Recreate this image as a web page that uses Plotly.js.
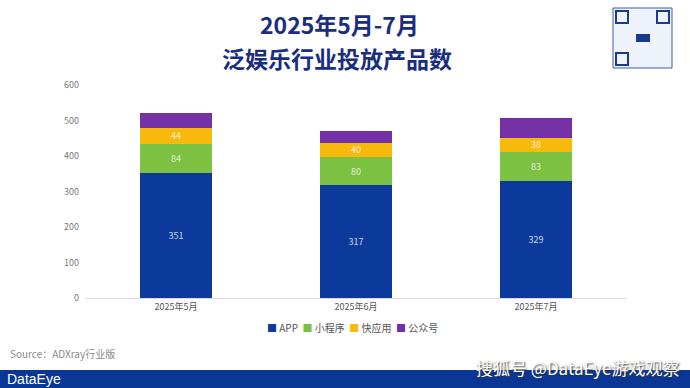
<!DOCTYPE html>
<html><head><meta charset="utf-8">
<script src="https://cdn.plot.ly/plotly-3.0.1.min.js"></script>
<style>html,body{margin:0;padding:0;background:#fff;}#chart{width:690px;height:388px;}</style>
</head><body><div id="chart"></div>
<script>
const categories = ['2025年5月', '2025年6月', '2025年7月'];
const appValues = [351, 317, 329];
const miniValues = [84, 80, 83];
const quickValues = [44, 40, 38];
const officialValues = [42, 33, 57];
const seriesNames = ['APP', '小程序', '快应用', '公众号'];
const yTicks = [0, 100, 200, 300, 400, 500, 600];

const colors = ['#0b3a9c', '#7cc142', '#f6b90c', '#7431a5'];
const font = '"Noto Sans CJK SC", "Noto Sans", sans-serif';

function mk(name, vals, color, showText) {
  return {
    type: 'bar', name: name, x: categories, y: vals,
    marker: {color: color},
    text: showText ? vals.map(String) : vals.map(() => ''),
    textposition: 'inside', insidetextanchor: 'middle', constraintext: 'none', textangle: 0,
    textfont: {color: 'rgba(255,255,255,0.8)', size: 9, family: font},
    hoverinfo: 'x+y+name', width: 0.4, showlegend: false
  };
}
const data = [
  mk(seriesNames[0], appValues, colors[0], true),
  mk(seriesNames[1], miniValues, colors[1], true),
  mk(seriesNames[2], quickValues, colors[2], true),
  mk(seriesNames[3], officialValues, colors[3], false)
];

// pixel helpers: plot area x 86..626, y 85..298
const px = x => (x - 86) / 540;
const py = y => (298 - y) / 213;

const shapes = [
  {type: 'rect', xref: 'paper', yref: 'paper', x0: px(0), x1: px(690), y0: py(388), y1: py(370), fillcolor: '#0a3696', line: {width: 0}},
  // QR placeholder
  {type: 'rect', xref: 'paper', yref: 'paper', x0: px(613), x1: px(672), y0: py(68), y1: py(8), fillcolor: '#eef2fa', line: {color: '#3a5fb0', width: 1}},
  {type: 'rect', xref: 'paper', yref: 'paper', x0: px(616), x1: px(628), y0: py(23), y1: py(11), fillcolor: 'rgba(0,0,0,0)', line: {color: '#1a3a8a', width: 2}},
  {type: 'rect', xref: 'paper', yref: 'paper', x0: px(657), x1: px(669), y0: py(23), y1: py(11), fillcolor: 'rgba(0,0,0,0)', line: {color: '#1a3a8a', width: 2}},
  {type: 'rect', xref: 'paper', yref: 'paper', x0: px(616), x1: px(628), y0: py(65), y1: py(53), fillcolor: 'rgba(0,0,0,0)', line: {color: '#1a3a8a', width: 2}},
  {type: 'rect', xref: 'paper', yref: 'paper', x0: px(636), x1: px(650), y0: py(42), y1: py(34), fillcolor: '#1a3a8a', line: {width: 0}}
];

const legendText = seriesNames.map((n, i) =>
  '<span style="color:' + colors[i] + '">■</span> ' + n).join('  ');

const annotations = [
  {xref: 'paper', yref: 'paper', x: px(339), y: py(24), xanchor: 'center', yanchor: 'middle', showarrow: false,
   text: '<b>2025年5月-7月</b>', font: {size: 23, color: '#1b2d80', family: font}},
  {xref: 'paper', yref: 'paper', x: px(337), y: py(58), xanchor: 'center', yanchor: 'middle', showarrow: false,
   text: '<b>泛娱乐行业投放产品数</b>', font: {size: 23, color: '#1b2d80', family: font}},
  {xref: 'paper', yref: 'paper', x: px(352), y: py(327), xanchor: 'center', yanchor: 'middle', showarrow: false,
   text: legendText, font: {size: 10, color: '#555555', family: font}},
  {xref: 'paper', yref: 'paper', x: px(8), y: py(353), xanchor: 'left', yanchor: 'middle', showarrow: false,
   text: 'Source：ADXray行业版', font: {size: 10, color: '#8a8a8a', family: font}},
  {xref: 'paper', yref: 'paper', x: px(5), y: py(379), xanchor: 'left', yanchor: 'middle', showarrow: false,
   text: 'DataEye', font: {size: 14, color: '#ffffff', family: '"Liberation Sans", sans-serif'}},
  {xref: 'paper', yref: 'paper', x: px(682), y: py(367), xanchor: 'right', yanchor: 'middle', showarrow: false,
   text: '搜狐号 @DataEye游戏观察', font: {size: 17, color: '#ffffff', family: font, shadow: '1px 1px 2px #333'}}
];

const layout = {
  width: 690, height: 388,
  margin: {l: 86, r: 64, t: 85, b: 90, pad: 0},
  paper_bgcolor: '#ffffff', plot_bgcolor: '#ffffff',
  barmode: 'stack',
  xaxis: {type: 'category', showgrid: false, zeroline: false, showline: true, linecolor: '#d9d9d9', linewidth: 1,
    ticks: '', tickfont: {size: 9, color: '#555555', family: font}},
  yaxis: {range: [0, 600], tickvals: yTicks, ticktext: yTicks.map(String), showgrid: false, zeroline: false, showline: false,
    ticks: '', ticklabelstandoff: 6, tickfont: {size: 9, color: '#7a7a7a', family: font}},
  showlegend: false,
  shapes: shapes, annotations: annotations
};
Plotly.newPlot('chart', data, layout, {displayModeBar: false, staticPlot: true});
</script></body></html>
